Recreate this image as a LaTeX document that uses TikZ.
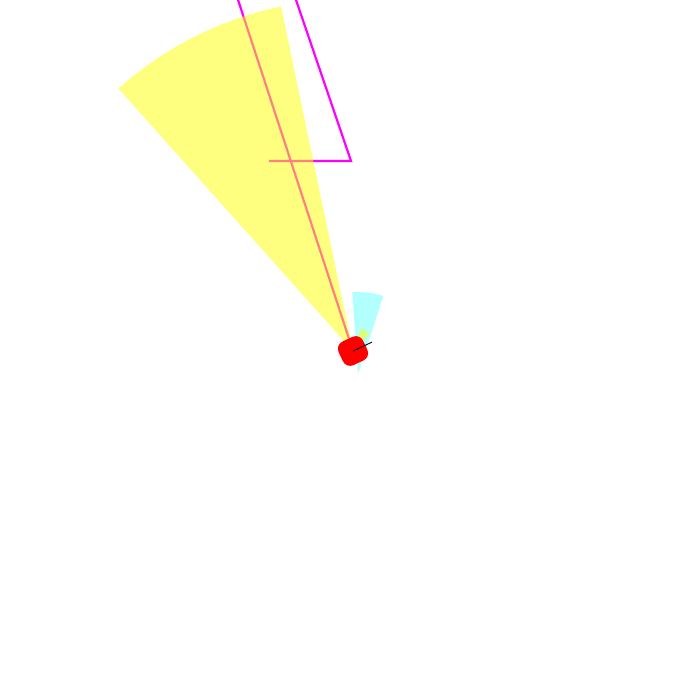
\documentclass[tikz,border=0pt]{standalone}
\definecolor{routemag}{RGB}{255,0,255}
\definecolor{fovyellow}{RGB}{255,255,0}
\definecolor{fovcyan}{RGB}{0,255,255}
\definecolor{robotred}{RGB}{255,0,0}
\begin{document}
\begin{tikzpicture}[x=1pt,y=1pt,
  route/.style={draw=routemag, line width=2.2pt},
  fovbig/.style={fill=fovyellow, fill opacity=0.5},
  fovsmall/.style={fill=fovcyan, fill opacity=0.3},
  robotbody/.style={fill=robotred},
  heading/.style={draw=black, line width=0.9pt}]
\useasboundingbox (0,0) rectangle (700,700);
\begin{scope}
\clip (0,0) rectangle (700,700);
\coordinate (R) at (353,349);
\coordinate (S) at (358,326);
\coordinate (A) at (231.5,720);
\coordinate (B) at (289.2,720);
\coordinate (C) at (351,539);
\coordinate (D) at (269,539);
% route lines
\draw[route] (R) -- (A);
\draw[route] (B) -- (C) -- (D);
% big yellow field of view
\fill[fovbig] (R) -- ++(101.8:352) arc[start angle=101.8, end angle=131.8, radius=352pt] -- cycle;
% cyan sensor wedge
\fill[fovsmall] (S) -- ++(72:82) arc[start angle=72, end angle=94, radius=82pt] -- cycle;
% small yellow wedge
\fill[fovbig] (R) -- ++(46:24) arc[start angle=46, end angle=70, radius=24pt] -- cycle;
% robot
\begin{scope}[shift={(R)}, rotate=25]
\fill[robotbody, rounded corners=8pt] (-13.5,-13) rectangle (13.5,13);
\draw[heading] (0,0) -- (21,0);
\end{scope}
\end{scope}
\end{tikzpicture}
\end{document}
